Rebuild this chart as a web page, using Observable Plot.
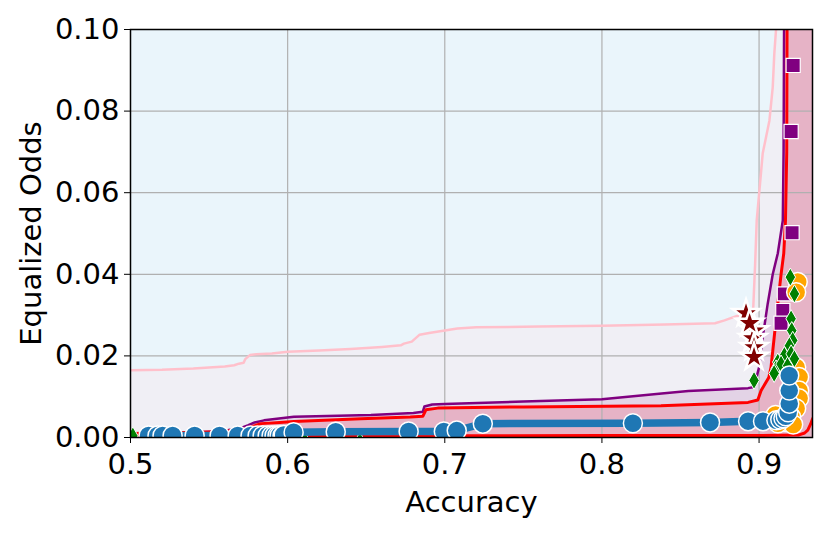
<!DOCTYPE html>
<html><head><meta charset="utf-8">
<script src="https://cdn.jsdelivr.net/npm/d3@7"></script>
<script src="https://cdn.jsdelivr.net/npm/@observablehq/plot@0.6"></script>
<style>body{margin:0;background:#fff}</style>
</head><body><div id="chart"></div>
<script>
// axis ticks
const xTicks = [0.5, 0.6, 0.7, 0.8, 0.9];
const yTicks = [0, 0.02, 0.04, 0.06, 0.08, 0.10];
const xMin = 0.5, xMax = 0.934;

// frontier curves (accuracy, equalized odds)
const pinkAcc = [0.5,0.52,0.54,0.56,0.566,0.569,0.572,0.573,0.576,0.58,0.59,0.6,0.62,0.64,0.66,0.672,0.674,0.679,0.684,0.69,0.70,0.708,0.72,0.76,0.80,0.84,0.872,0.878,0.886,0.893,0.8962,0.8975,0.8985,0.9008,0.9023,0.9066,0.9087,0.9097,0.9108,0.9112];
const pinkEO  = [0.0165,0.0166,0.0169,0.0174,0.0177,0.0181,0.0183,0.0192,0.0202,0.0204,0.0206,0.0210,0.0213,0.0217,0.0222,0.0226,0.0230,0.0235,0.0252,0.0256,0.0262,0.0267,0.0270,0.0272,0.0274,0.0277,0.0280,0.0287,0.0298,0.0302,0.0310,0.0426,0.0532,0.063,0.0696,0.0777,0.0859,0.0941,0.1,0.105];

const purpleAcc = [0.5,0.54,0.56,0.564,0.57,0.575,0.579,0.585,0.604,0.653,0.68,0.686,0.687,0.692,0.70,0.75,0.80,0.838,0.855,0.893,0.8968,0.900,0.9023,0.9055,0.9087,0.9119,0.9151,0.9156,0.9159,0.916];
const purpleEO  = [0.0009,0.0012,0.0016,0.0020,0.0023,0.0030,0.0037,0.0042,0.0051,0.0055,0.0060,0.0063,0.0076,0.0081,0.0082,0.0088,0.0094,0.0108,0.0114,0.0121,0.0124,0.0172,0.0245,0.0328,0.0400,0.0451,0.0532,0.07,0.1,0.105];

const redAcc = [0.5,0.56,0.564,0.572,0.576,0.583,0.595,0.604,0.6465,0.678,0.686,0.688,0.6955,0.75,0.8376,0.893,0.8992,0.9013,0.9062,0.9076,0.9096,0.9119,0.914,0.9157,0.9168,0.9176,0.9178,0.918];
const redEO  = [0.0010,0.0014,0.0017,0.0020,0.0025,0.0034,0.0037,0.0039,0.0046,0.0050,0.0052,0.0068,0.0072,0.0075,0.0078,0.0086,0.0092,0.0115,0.0147,0.0172,0.0245,0.0328,0.0400,0.0451,0.0532,0.07,0.1,0.105];

const redLowAcc = [0.5,0.6,0.7,0.8,0.9,0.925,0.929,0.931,0.9327,0.934,0.936];
const redLowEO  = [0.0004,0.0004,0.0004,0.0005,0.0005,0.0006,0.0011,0.0018,0.0032,0.0045,0.006];

// scatter series
const blueAcc = [0.5115,0.5172,0.5204,0.5268,0.5408,0.5567,0.5682,0.5764,0.5809,0.5841,0.5873,0.5898,0.5917,0.5936,0.5949,0.5968,0.5975,0.6038,0.6306,0.677,0.6994,0.7076,0.7242,0.8197,0.8688,0.893,0.9025,0.911,0.9135,0.9155,0.917,0.9185,0.9192,0.9192,0.9192];
const blueEO  = [0.0005,0.0005,0.0005,0.0005,0.0005,0.0005,0.0005,0.0005,0.0005,0.0005,0.0005,0.0005,0.0005,0.0005,0.0005,0.0005,0.0006,0.0013,0.0014,0.0015,0.0015,0.0017,0.0034,0.0035,0.0037,0.0040,0.0040,0.0042,0.0044,0.0047,0.0052,0.0062,0.0083,0.0115,0.0152];

const orangeAcc = [0.9246,0.9236,0.9236,0.9255,0.9255,0.9255,0.9236,0.9204,0.9172,0.914,0.9217,0.9105,0.912];
const orangeEO  = [0.0381,0.0356,0.0172,0.0148,0.0115,0.0096,0.0071,0.0050,0.0038,0.0042,0.0032,0.0055,0.0035];

const greenAcc = [0.9199,0.9225,0.9204,0.9208,0.9214,0.9193,0.9161,0.9119,0.9108,0.914,0.9182,0.9204,0.9225,0.9096,0.8968,0.5015,0.611,0.646];
const greenEO  = [0.0393,0.0352,0.0291,0.0262,0.0238,0.0225,0.0201,0.0185,0.0168,0.0180,0.0176,0.0205,0.0193,0.0157,0.0140,0.0004,-0.0009,-0.0009];

const squareAcc = [0.9217,0.9204,0.9210,0.9161,0.9151,0.914];
const squareEO  = [0.0912,0.0750,0.0502,0.0352,0.0311,0.0280];

const starAcc = [0.8917,0.8970,0.8960,0.8968,0.8968,0.894];
const starEO  = [0.0304,0.0262,0.0243,0.0221,0.0197,0.0280];

const rows = (xs, ys) => xs.map((x, i) => ({x, y: ys[i]}));
const fillRows = (xs, ys) => [{x: xs[0], y: 0}, ...rows(xs, ys)];

const font = "DejaVu Sans";
const chart = Plot.plot({
  width: 830, height: 534,
  marginLeft: 130, marginRight: 18, marginTop: 29, marginBottom: 97,
  x: {domain: [xMin, xMax]},
  y: {domain: [0, 0.1]},
  style: {fontFamily: font, fontSize: "29px", background: "white", color: "black"},
  marks: [
    Plot.frame({fill: "#EAF5FB"}),
    Plot.areaX(fillRows(pinkAcc, pinkEO), {y: "y", x1: "x", x2: () => xMax + 0.01, fill: "#F0EFF5", clip: true}),
    Plot.areaX(fillRows(purpleAcc, purpleEO), {y: "y", x1: "x", x2: () => xMax + 0.01, fill: "#E3D3E6", clip: true}),
    Plot.areaX(fillRows(redAcc, redEO), {y: "y", x1: "x", x2: () => xMax + 0.01, fill: "#E6B3C6", clip: true}),
    Plot.gridX(xTicks.slice(1), {stroke: "#b0b0b0", strokeOpacity: 1, strokeWidth: 1.2}),
    Plot.gridY(yTicks.slice(1, -1), {stroke: "#b0b0b0", strokeOpacity: 1, strokeWidth: 1.2}),
    Plot.line(rows(pinkAcc, pinkEO), {x: "x", y: "y", stroke: "pink", strokeWidth: 2.5, clip: true}),
    Plot.line(rows(purpleAcc, purpleEO), {x: "x", y: "y", stroke: "purple", strokeWidth: 2.5, clip: true}),
    Plot.line(rows(redAcc, redEO), {x: "x", y: "y", stroke: "red", strokeWidth: 3, clip: true}),
    Plot.line(rows(redLowAcc, redLowEO), {x: "x", y: "y", stroke: "red", strokeWidth: 3, clip: true}),
    Plot.dot(rows(starAcc, starEO), {x: "x", y: "y", symbol: "star", r: 8.5, fill: "#800000", stroke: "white", strokeWidth: 2.5, clip: true}),
    Plot.dot(rows(squareAcc, squareEO), {x: "x", y: "y", symbol: "square", r: 8, fill: "purple", stroke: "white", strokeWidth: 1.2, clip: true}),
    Plot.dot(rows(orangeAcc, orangeEO), {x: "x", y: "y", r: 9.5, fill: "orange", stroke: "white", strokeWidth: 1.5, clip: true}),
    Plot.dot(rows(greenAcc, greenEO), {x: "x", y: "y", symbol: "diamond", r: 5.5, fill: "green", stroke: "white", strokeWidth: 1, clip: true}),
    Plot.line(rows(blueAcc, blueEO), {x: "x", y: "y", stroke: "#1f77b4", strokeWidth: 7.5, clip: true}),
    Plot.dot(rows(blueAcc, blueEO), {x: "x", y: "y", r: 9.5, fill: "#1f77b4", stroke: "white", strokeWidth: 1.5, clip: true}),
    Plot.frame({stroke: "black", strokeWidth: 1.5}),
    Plot.axisX(xTicks, {tickFormat: d3.format(".1f"), tickSize: 6, tickPadding: 10, label: null, fontSize: 29}),
    Plot.axisY(yTicks, {tickFormat: d3.format(".2f"), tickSize: 6, tickPadding: 5, label: null, fontSize: 29}),
    Plot.text(["Accuracy"], {frameAnchor: "bottom", dy: 74, fontSize: 29}),
    Plot.text(["Equalized Odds"], {frameAnchor: "left", textAnchor: "middle", dx: -99, rotate: -90, fontSize: 29})
  ]
});
document.getElementById("chart").appendChild(chart);
</script></body></html>
